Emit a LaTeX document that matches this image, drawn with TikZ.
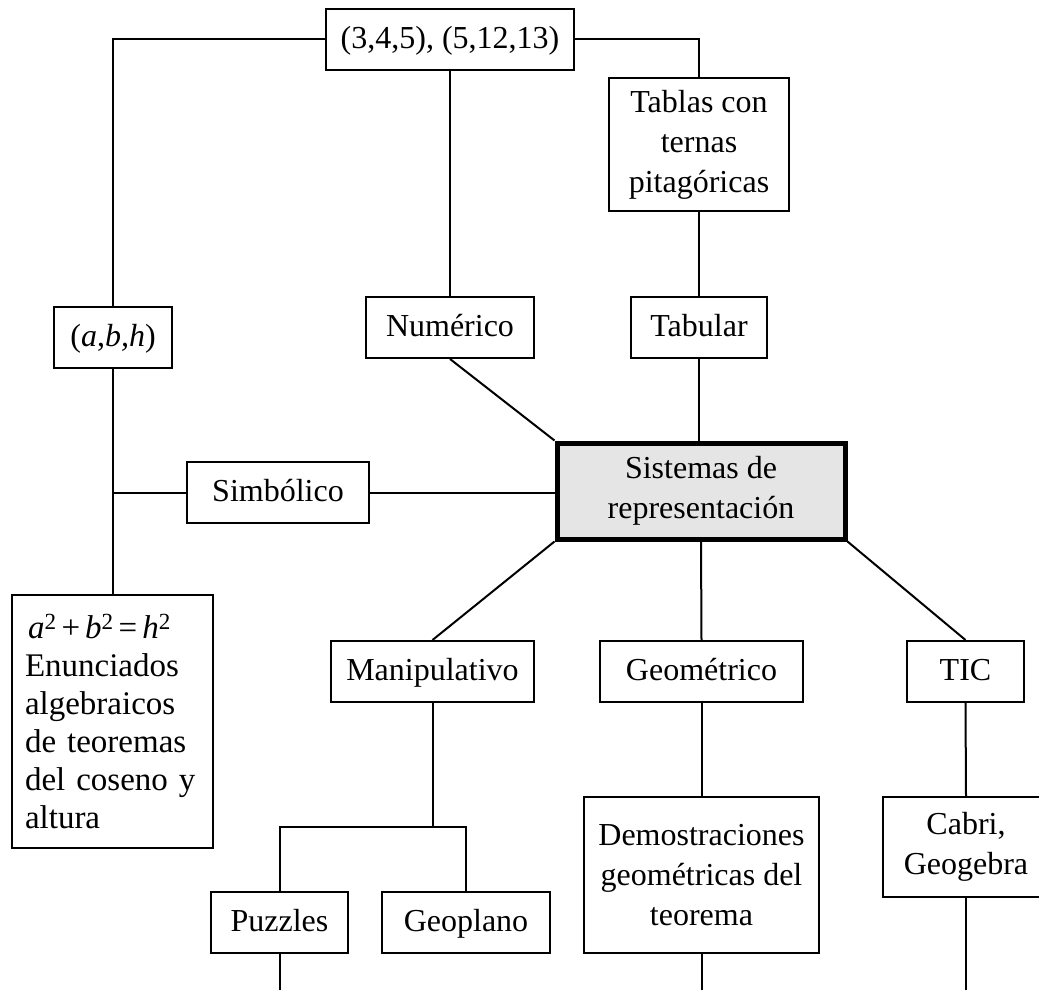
\documentclass[tikz,border=0pt]{standalone}
\usepackage{fontspec}
\setmainfont{Liberation Serif}
\begin{document}
\begin{tikzpicture}[x=1pt,y=-1pt,
  box/.style={draw, line width=2pt, inner sep=0pt, align=center, fill=white,
    font=\fontsize{32}{40}\selectfont},
  single/.style={box, minimum height=61, text height=24pt, text depth=6pt},
  conn/.style={line width=2pt},
  main/.style={box, line width=5pt, fill=gray!20}]
\clip (0,0) rectangle (1039,990);
\fill[white] (0,0) rectangle (1039,990);
% nodes
\node[single, minimum width=248] (top) at (450,39.5) {(3,4,5), (5,12,13)};
\node[box, minimum width=180, minimum height=133] (tablas) at (699,144.5) {Tablas con\\ternas\\pitagóricas};
\node[single, minimum width=168] (numerico) at (450,327.5) {Numérico};
\node[single, minimum width=136] (tabular) at (699,327.5) {Tabular};
\node[single, minimum width=118] (abh) at (113,337.5) {(\textit{a},\textit{b,h})};
\node[main, minimum width=288, minimum height=96] (sis) at (701,491) {Sistemas de\\representación};
\node[single, minimum width=182] (simb) at (278,492.5) {Simbólico};
\node[box, minimum width=201, minimum height=253, text width=175, inner xsep=13pt, align=left,
  font=\fontsize{33}{38}\selectfont] (enun) at (112.5,721.5)
  {\hspace{3pt}\textit{a}\textsuperscript{2}\hspace{5pt}+\hspace{5pt}\textit{b}\textsuperscript{2}\hspace{5pt}=\hspace{5pt}\textit{h}\textsuperscript{2}\\Enunciados\\algebraicos\\de teoremas\\del coseno y\\altura};
\node[single, minimum width=203] (manip) at (432.5,671.5) {Manipulativo};
\node[single, minimum width=203] (geom) at (701.5,671.5) {Geométrico};
\node[single, minimum width=117] (tic) at (965.5,671.5) {TIC};
\node[box, minimum width=235, minimum height=156] (demos) at (701.5,875) {Demostraciones\\geométricas del\\teorema};
\node[box, minimum width=166, minimum height=100] (cabri) at (966,847) {Cabri,\\Geogebra};
\node[single, minimum width=137] (puzzles) at (279.5,922.5) {Puzzles};
\node[single, minimum width=168] (geoplano) at (466,922.5) {Geoplano};
% free ends
\coordinate (split) at (432.5,827);
\coordinate (pend) at (279.5,995);
\coordinate (dend) at (701.5,995);
\coordinate (cend) at (966,995);
% connectors
\draw[conn] (top.west) -| (abh.north);
\draw[conn] (top.east) -| (tablas.north);
\draw[conn] (top.south) -- (numerico.north);
\draw[conn] (tablas.south) -- (tabular.north);
\draw[conn] (numerico.south) -- (sis.north west);
\draw[conn] (tabular.south) -- (tabular.south |- sis.north);
\draw[conn] (simb.east) -- (simb.east -| sis.west);
\draw[conn] (simb.west) -- (simb.west -| abh.south);
\draw[conn] (abh.south) -- (abh.south |- enun.north);
\draw[conn] (sis.south west) -- (manip.north);
\draw[conn] (sis.south) -- (geom.north);
\draw[conn] (sis.south east) -- (tic.north);
\draw[conn] (tic.south) -- (cabri.north);
\draw[conn] (geom.south) -- (demos.north);
\draw[conn] (manip.south) -- (split);
\draw[conn] (puzzles.north) |- (split) -| (geoplano.north);
\draw[conn] (puzzles.south) -- (pend);
\draw[conn] (demos.south) -- (dend);
\draw[conn] (cabri.south) -- (cend);
\end{tikzpicture}
\end{document}
